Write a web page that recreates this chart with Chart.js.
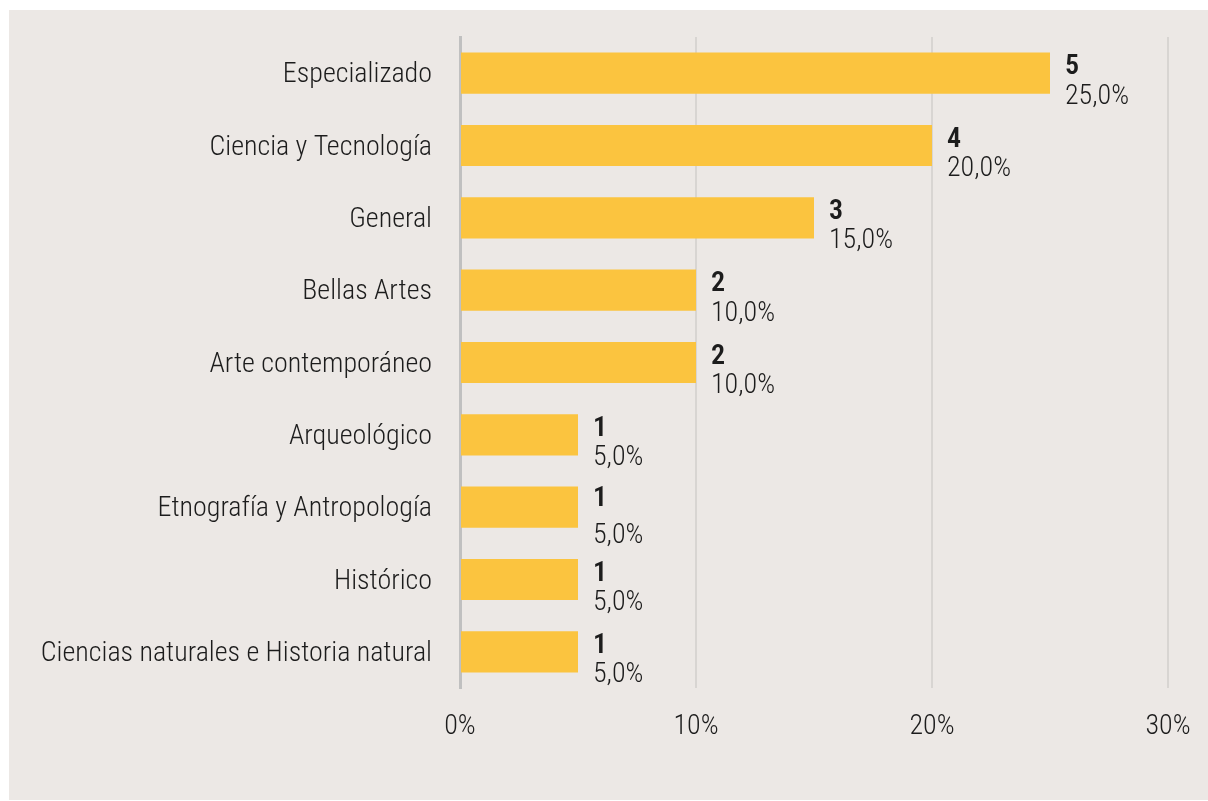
<!DOCTYPE html>
<html>
<head>
<meta charset="utf-8">
<script src="https://cdn.jsdelivr.net/npm/chart.js@4.4.1/dist/chart.umd.min.js"></script>
<style>
  html, body { margin: 0; padding: 0; background: #ffffff; }
  #panel { position: absolute; left: 9px; top: 10px; width: 1199px; height: 790px; background: #ece8e5; }
  #c { display: block; }
</style>
</head>
<body>
<div id="panel"><canvas id="c" width="1199" height="790"></canvas></div>
<script>
const categories = [
  "Especializado",
  "Ciencia y Tecnología",
  "General",
  "Bellas Artes",
  "Arte contemporáneo",
  "Arqueológico",
  "Etnografía y Antropología",
  "Histórico",
  "Ciencias naturales e Historia natural"
];
const counts = [5, 4, 3, 2, 2, 1, 1, 1, 1];
const percents = [25.0, 20.0, 15.0, 10.0, 10.0, 5.0, 5.0, 5.0, 5.0];
const xTicks = [0, 10, 20, 30];

const FAMILY = "Roboto, 'Open Sans', sans-serif";
const TEXT = "#1c1c1c";

function zeroPad(scale) {
  scale.paddingTop = 0; scale.paddingBottom = 0;
  scale.paddingLeft = 0; scale.paddingRight = 0;
}

const labelPlugin = {
  id: 'barLabels',
  afterDatasetsDraw(chart, args, opts) {
    const ctx = chart.ctx;
    const meta = chart.getDatasetMeta(0);
    ctx.save();
    ctx.fillStyle = TEXT;
    ctx.textAlign = 'left';
    ctx.textBaseline = 'middle';
    meta.data.forEach((bar, i) => {
      const x = bar.x + 15;
      const g = (opts.extraGap && opts.extraGap[i]) || [0, 0];
      ctx.font = "600 condensed 28px " + FAMILY;
      ctx.fillText(String(counts[i]), x, bar.y - 6 + g[0]);
      ctx.font = "300 condensed 28px " + FAMILY;
      ctx.fillText(percents[i].toFixed(1).replace('.', ',') + '%', x, bar.y + 23.5 + g[1]);
    });
    ctx.restore();
  }
};

new Chart(document.getElementById('c'), {
  type: 'bar',
  data: {
    labels: categories,
    datasets: [{
      data: percents,
      backgroundColor: '#fbc43f',
      borderWidth: 0,
      barPercentage: 0.57,
      categoryPercentage: 1.0
    }]
  },
  options: {
    indexAxis: 'y',
    responsive: false,
    animation: false,
    layout: { padding: { left: 0, right: 40, top: 27, bottom: 0 } },
    plugins: {
      legend: { display: false },
      tooltip: { enabled: false },
      barLabels: { extraGap: { 6: [-2, 5.5] } }
    },
    scales: {
      x: {
        min: 0,
        max: 30,
        afterBuildTicks(scale) { scale.ticks = xTicks.map(v => ({ value: v })); },
        afterFit(scale) { scale.height = 112; zeroPad(scale); },
        ticks: {
          callback: v => v + '%',
          color: TEXT,
          font: { family: FAMILY, size: 28, weight: '300 condensed' },
          padding: 22
        },
        grid: { color: '#d8d5d2', lineWidth: 2, drawTicks: false },
        border: { display: false }
      },
      y: {
        afterFit(scale) { scale.width = 451; zeroPad(scale); },
        ticks: {
          color: TEXT,
          font: { family: FAMILY, size: 28, weight: '300 condensed' },
          padding: 28,
          labelOffset: 2
        },
        grid: { display: false, drawTicks: false },
        border: { display: true, color: '#c0c0c0', width: 3 }
      }
    }
  },
  plugins: [labelPlugin]
});
</script>
</body>
</html>
